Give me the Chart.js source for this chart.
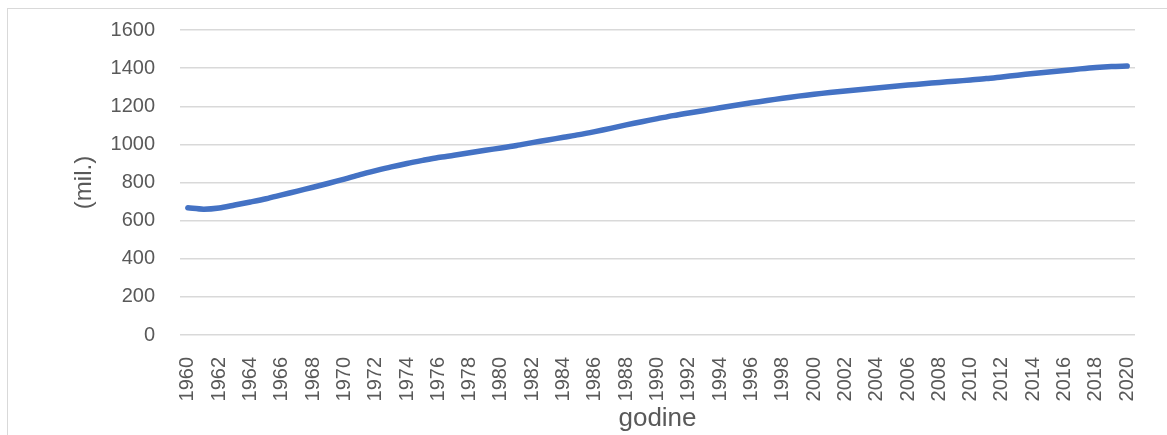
<!DOCTYPE html>
<html>
<head>
<meta charset="utf-8">
<script src="https://cdn.jsdelivr.net/npm/chart.js@4"></script>
<style>
  html, body { margin: 0; padding: 0; background: #fff; }
  #wrap { position: relative; width: 1167px; height: 435px; overflow: hidden; }
  #frame { position: absolute; left: 7px; top: 8px; width: 1200px; height: 500px; border: 1px solid #d9d9d9; box-sizing: border-box; }
  /* y tick padding pushes the plot top down, so the canvas is lifted a little */
  #chart { position: absolute; left: 0; top: -7px; }
</style>
</head>
<body>
<div id="wrap">
  <div id="frame"></div>
  <canvas id="chart" width="1167" height="442"></canvas>
</div>
<script>
// godine 1960-2020
const years = [
  '1960','1961','1962','1963','1964','1965','1966','1967','1968','1969',
  '1970','1971','1972','1973','1974','1975','1976','1977','1978','1979',
  '1980','1981','1982','1983','1984','1985','1986','1987','1988','1989',
  '1990','1991','1992','1993','1994','1995','1996','1997','1998','1999',
  '2000','2001','2002','2003','2004','2005','2006','2007','2008','2009',
  '2010','2011','2012','2013','2014','2015','2016','2017','2018','2019',
  '2020'
];

// stanovništvo (mil.)
const population = [
  667, 660, 666, 682, 698, 715, 735, 755, 775, 796,
  818, 841, 862, 882, 900, 916, 931, 943, 956, 969,
  981, 994, 1009, 1023, 1037, 1051, 1067, 1084, 1102, 1119,
  1135, 1151, 1165, 1178, 1192, 1205, 1218, 1230, 1242, 1253,
  1263, 1272, 1280, 1288, 1296, 1304, 1311, 1318, 1325, 1331,
  1338, 1345, 1354, 1363, 1372, 1380, 1388, 1396, 1403, 1408,
  1411
];

const yTicks = [0, 200, 400, 600, 800, 1000, 1200, 1400, 1600];

const fontFamily = '"Liberation Sans", Arial, sans-serif';
const textColor = '#595959';

new Chart(document.getElementById('chart'), {
  type: 'line',
  data: {
    labels: years,
    datasets: [{
      data: population,
      borderColor: '#4472C4',
      borderWidth: 5.5,
      borderCapStyle: 'round',
      borderJoinStyle: 'round',
      pointRadius: 0,
      tension: 0.3,
      fill: false
    }]
  },
  options: {
    responsive: false,
    animation: false,
    devicePixelRatio: 1,
    layout: { padding: { left: 60, right: 32, top: 24, bottom: 0 } },
    plugins: {
      legend: { display: false },
      tooltip: { enabled: false }
    },
    scales: {
      x: {
        offset: true,
        grid: { display: false },
        border: { display: false },
        ticks: {
          autoSkip: false,
          minRotation: 90,
          maxRotation: 90,
          padding: 14,
          color: textColor,
          font: { family: fontFamily, size: 20 },
          callback: (v, i) => (i % 2 === 0 ? years[i] : null)
        },
        title: {
          display: true,
          text: 'godine',
          color: textColor,
          font: { family: fontFamily, size: 26 },
          padding: { top: 0, bottom: 1 }
        },
        afterFit: (scale) => { scale.height = 100; }
      },
      y: {
        min: 0,
        max: 1600,
        afterBuildTicks: (scale) => { scale.ticks = yTicks.map(v => ({ value: v })); },
        grid: { color: '#d9d9d9', lineWidth: 1.5, drawTicks: false },
        border: { display: false },
        ticks: {
          padding: 25,
          color: textColor,
          font: { family: fontFamily, size: 20 },
          callback: (v) => String(v)
        },
        title: {
          display: true,
          text: '(mil.)',
          color: textColor,
          font: { family: fontFamily, size: 24 },
          padding: { top: 10, bottom: 0 }
        },
        afterFit: (scale) => { scale.width = 120; }
      }
    }
  }
});
</script>
</body>
</html>
